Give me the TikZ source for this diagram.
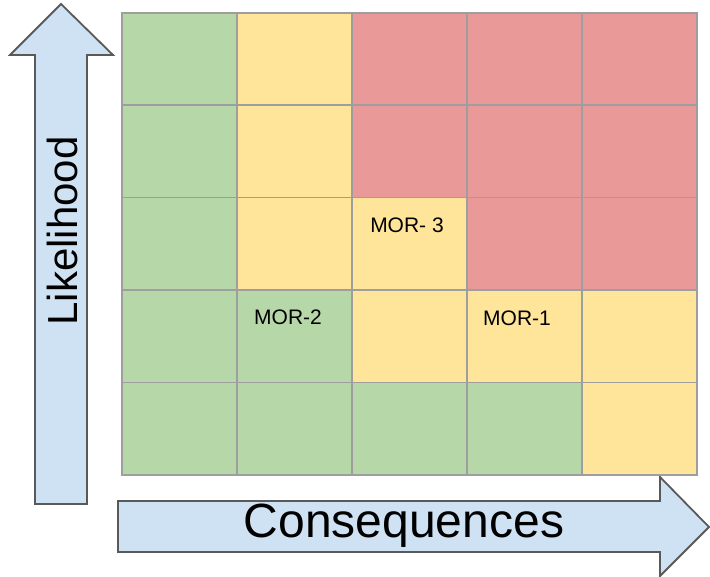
\documentclass[tikz,border=0pt]{standalone}
\usepackage{fontspec}
\setmainfont{Liberation Sans}
\definecolor{cgreen}{HTML}{B6D7A8}
\definecolor{cyellow}{HTML}{FFE599}
\definecolor{cred}{HTML}{EA9999}
\definecolor{cgrid}{HTML}{9E9E9E}
\definecolor{carrow}{HTML}{CFE2F3}
\definecolor{cedge}{HTML}{595959}
\tikzset{
  cell/.style={draw=cgrid, line width=1.6pt, minimum width=115pt, minimum height=92.4pt, inner sep=0pt, anchor=north west},
  bigarrow/.style={draw=cedge, fill=carrow, line width=1.8pt, line join=miter},
  morlabel/.style={font=\fontsize{21}{25}\selectfont, inner sep=0pt, anchor=base},
}
\begin{document}
\begin{tikzpicture}[x=1pt,y=-1pt]
\useasboundingbox (0,0) rectangle (710,577);
% arrows
\draw[bigarrow] (61,4) -- (10,55) -- (35,55) -- (35,504) -- (87,504) -- (87,55) -- (113,55) -- cycle;
\draw[bigarrow] (118,501) -- (660,501) -- (660,477) -- (709,527) -- (660,576) -- (660,552) -- (118,552) -- cycle;
\node[rotate=90, font=\fontsize{42}{48}\selectfont, inner sep=0pt, anchor=base] (lik) at (77,231) {Likelihood};
\node[font=\fontsize{48}{54}\selectfont, inner sep=0pt, anchor=base] (con) at (404,537) {Consequences};
% grid cells
\foreach \row/\cols in {1/{cgreen,cyellow,cred,cred,cred},2/{cgreen,cyellow,cred,cred,cred},3/{cgreen,cyellow,cyellow,cred,cred},4/{cgreen,cgreen,cyellow,cyellow,cyellow},5/{cgreen,cgreen,cgreen,cgreen,cyellow}}{
  \foreach \c [count=\col] in \cols {
    \node[cell, fill=\c] (c\row\col) at ({121+115*(\col-1)},{12+92.4*(\row-1)}) {};
  }
}
\node[morlabel] (mor3) at (407,232.5) {MOR- 3};
\node[morlabel] (mor2) at (288,325) {MOR-2};
\node[morlabel] (mor1) at (517,325.5) {MOR-1};
\end{tikzpicture}
\end{document}
